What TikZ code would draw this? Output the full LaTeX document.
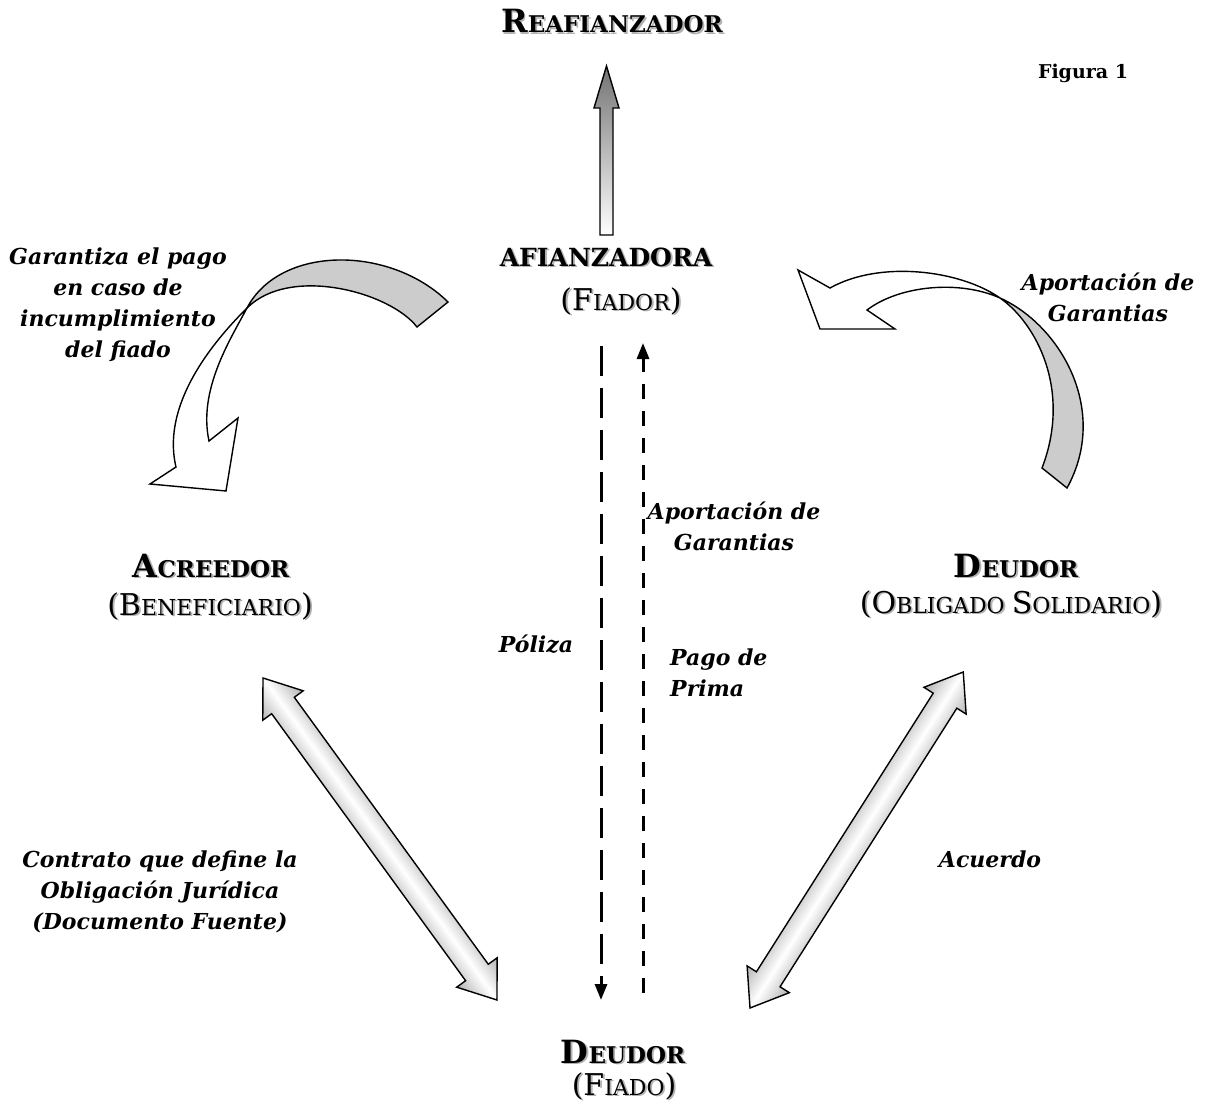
\documentclass[tikz,border=0pt]{standalone}
\usepackage{fontspec}
\setmainfont{DejaVu Serif}
\usetikzlibrary{arrows.meta}
\newcommand\bgl[1]{{\fontsize{32pt}{34pt}\selectfont #1}}
\newcommand\sml[1]{{\fontsize{23pt}{26pt}\selectfont #1}}
\newcommand\bgr[1]{{\fontsize{30pt}{34pt}\selectfont #1}}
\newcommand\smr[1]{{\fontsize{22pt}{26pt}\selectfont #1}}
\newcommand\shad[1]{\leavevmode\rlap{\kern1.8pt\raisebox{-1.8pt}{\textcolor{black!30}{#1}}}#1}
\newcommand\dblarrow[3]{%
\begin{scope}[transform canvas={shift={#1},rotate=#2}]
\shade[blk, top color=gray!60, bottom color=gray!60, middle color=white]
 (0,0) -- (34,25) -- (34,14) -- (#3-34,14) -- (#3-34,25) -- (#3,0) -- (#3-34,-25) -- (#3-34,-14) -- (34,-14) -- (34,-25) -- cycle;
\end{scope}}
\begin{document}
\begin{tikzpicture}[x=1pt,y=-1pt,
  lbl/.style={font=\fontsize{22pt}{31pt}\selectfont\bfseries\itshape, align=center, inner sep=0pt},
  head/.style={inner sep=0pt, anchor=base},
  blk/.style={draw=black, line width=1.4pt, line join=miter},
  dashA/.style={line width=3pt, dash pattern=on 30pt off 12pt, -{Triangle[length=16pt,width=12pt]}},
  dashB/.style={line width=3pt, dash pattern=on 15pt off 12pt, -{Triangle[length=16pt,width=12pt]}}]
\useasboundingbox[fill=white] (0,0) rectangle (1205,1105);

% headings
\node[head] (reaf) at (612,33) {\bfseries\shad{\bgl{R}\sml{EAFIANZADOR}}};
\node[head] (fig) at (1083,79) {\bfseries\fontsize{19pt}{22pt}\selectfont Figura 1};
\node[head] (afz) at (606,266) {\bfseries\shad{{\fontsize{25pt}{28pt}\selectfont AFIANZADORA}}};
\node[head] (fiador) at (621,310) {\shad{\bgr{(F}\smr{IADOR}\bgr{)}}};
\node[head] (acre) at (211,577) {\bfseries\shad{\bgl{A}\sml{CREEDOR}}};
\node[head] (benef) at (210,615) {\shad{\bgr{(B}\smr{ENEFICIARIO}\bgr{)}}};
\node[head] (deuR) at (1016,577) {\bfseries\shad{\bgl{D}\sml{EUDOR}}};
\node[head] (oblig) at (1011,613) {\shad{\bgr{(O}\smr{BLIGADO }\bgr{S}\smr{OLIDARIO}\bgr{)}}};
\node[head] (deuB) at (623,1063) {\bfseries\shad{\bgl{D}\sml{EUDOR}}};
\node[head] (fiado) at (624,1095) {\shad{\bgr{(F}\smr{IADO}\bgr{)}}};

% labels
\node[lbl] (l1) at (118,305) {Garantiza el pago\\en caso de\\incumplimiento\\del fiado};
\node[lbl] (l2) at (1108,297) {Aportación de\\Garantias};
\node[lbl] (l3) at (734,526) {Aportación de\\Garantias};
\node[lbl, anchor=base] (l4) at (536,652) {Póliza};
\node[lbl, align=left, anchor=west] (l5) at (670,673) {Pago de\\Prima};
\node[lbl] (l6) at (160,892) {Contrato que define la\\Obligación Jurídica\\(Documento Fuente)};
\node[lbl, anchor=base] (l7) at (990,867) {Acuerdo};

% vertical block arrow to Reafianzador
\coordinate (va1) at (606.5,235);
\coordinate (va2) at (606.5,66);
\shade[blk, top color=black!55, bottom color=white]
  (600,235) -- (600,108) -- (594,108) -- (va2) -- (619,108) -- (613,108) -- (613,235) -- cycle;

% dashed connectors
\coordinate (p1) at (601,346);
\coordinate (p2) at (601,1000);
\coordinate (q1) at (643,993);
\coordinate (q2) at (643,343);
\draw[dashA] (p1) -- (p2);
\draw[dashB] (q1) -- (q2);

% double block arrows
\coordinate (la1) at (263,678);
\coordinate (la2) at (497,1000);
\coordinate (ra1) at (750,1008);
\coordinate (ra2) at (963,672);
\dblarrow{(la1)}{-54}{398}
\dblarrow{(ra1)}{57.6}{398}

% left curved arrow
\filldraw[blk, fill=gray!40] (448,302) .. controls (390,245) and (280,245) .. (247,308)
   .. controls (290,265) and (390,292) .. (417,327) -- cycle;
\filldraw[blk, fill=white] (247,308) .. controls (221,334) and (160,400) .. (176,467)
   -- (150,484) -- (226,491) -- (238,418) -- (209,441)
   .. controls (198,390) and (230,340) .. (247,308) -- cycle;

% right curved arrow
\filldraw[blk, fill=gray!40] (1000,298) .. controls (1060,325) and (1110,410) .. (1067,488)
   -- (1042,468) .. controls (1072,390) and (1036,323) .. (1000,298) -- cycle;
\filldraw[blk, fill=white] (1000,298) .. controls (960,270) and (880,260) .. (830,288)
   -- (798,270) -- (820,329) -- (895,329) -- (867,310)
   .. controls (900,285) and (960,280) .. (1000,298) -- cycle;
\end{tikzpicture}
\end{document}
